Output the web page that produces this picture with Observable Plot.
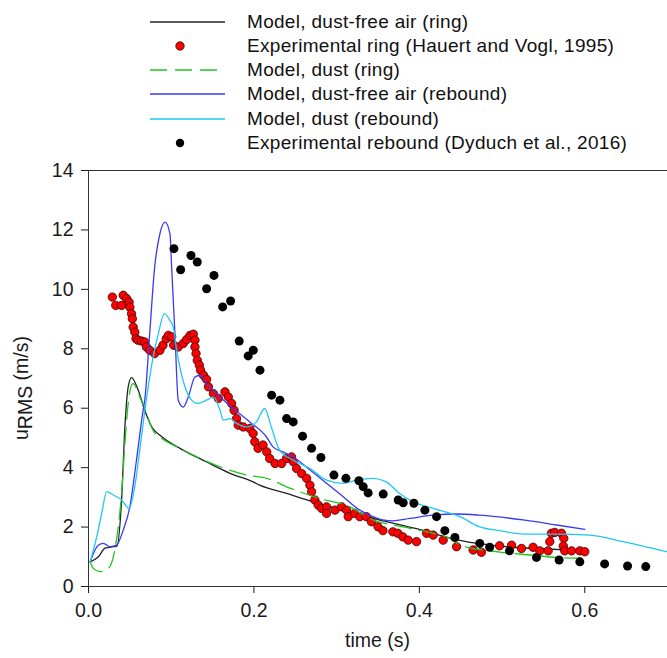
<!DOCTYPE html>
<html><head><meta charset="utf-8">
<script src="https://cdn.jsdelivr.net/npm/d3@7"></script>
<script src="https://cdn.jsdelivr.net/npm/@observablehq/plot@0.6"></script>
<style>
body{margin:0;background:#fff;font-family:Arial,"Liberation Sans",sans-serif;}
#wrap{width:667px;height:658px;position:relative;overflow:hidden;}
#legend{position:relative;width:667px;height:160px;}
.row{position:absolute;left:150px;height:24px;display:flex;align-items:center;font-size:19px;letter-spacing:0.3px;color:#111;white-space:nowrap;}
.row svg{width:75px;height:24px;margin-right:22px;flex:none;}
</style></head><body>
<div id="wrap"><div id="legend"></div><div id="chart"></div></div>
<script>
// ---- data ----
const seriesNames = [
  "Model, dust-free air (ring)",
  "Experimental ring (Hauert and Vogl, 1995)",
  "Model, dust (ring)",
  "Model, dust-free air (rebound)",
  "Model, dust (rebound)",
  "Experimental rebound (Dyduch et al., 2016)"
];
const seriesColors = ["#222222", "#ff0000", "#22c422", "#3a3af0", "#1ec8f2", "#000000"];
const seriesKinds = ["line", "dot", "dash", "line", "line", "dot"];

const xTicks = [0, 0.2, 0.4, 0.6];
const yTicks = [0, 2, 4, 6, 8, 10, 12, 14];

// Model, dust-free air (ring)
const ringAirT = [0.002,0.012,0.020,0.030,0.0344,0.040,0.044,0.048,0.052,0.060,0.068,0.0764,0.0864,0.1106,0.1428,0.171,0.199,0.207,0.2395,0.2717,0.30,0.35,0.40,0.449,0.509,0.55,0.598];
const ringAirU = [0.83,1.00,1.29,1.34,1.36,2.91,5.37,6.72,7.03,6.61,5.93,5.37,5.09,4.65,4.19,3.81,3.52,3.41,3.13,2.85,2.62,2.25,1.92,1.55,1.33,1.27,1.20];

// Experimental ring (Hauert and Vogl, 1995)
const ringExpT = [0.0288,0.0329,0.040,0.042,0.046,0.049,0.050,0.052,0.053,0.054,0.056,0.0574,0.060,0.064,0.068,0.070,0.074,0.080,0.0864,0.090,0.094,0.0965,0.1005,0.103,0.1085,0.1146,0.1187,0.1227,0.1267,0.1287,0.1287,0.130,0.1315,0.134,0.1355,0.139,0.1428,0.145,0.151,0.157,0.165,0.169,0.173,0.176,0.179,0.181,0.187,0.195,0.199,0.201,0.205,0.211,0.2155,0.219,0.2255,0.2335,0.2395,0.2455,0.2475,0.2516,0.2577,0.2637,0.2677,0.2697,0.2737,0.2777,0.2818,0.2878,0.2878,0.298,0.306,0.312,0.314,0.322,0.328,0.336,0.342,0.350,0.356,0.368,0.374,0.380,0.3865,0.3966,0.4087,0.4167,0.4288,0.445,0.465,0.475,0.497,0.5115,0.5235,0.5375,0.5456,0.5557,0.5577,0.5597,0.5637,0.5718,0.5746,0.574,0.5758,0.584,0.594,0.600];
const ringExpU = [9.74,9.46,9.46,9.80,9.69,9.57,9.40,9.18,9.01,8.73,8.56,8.34,8.29,8.26,8.23,8.06,7.95,7.84,7.95,8.12,8.34,8.45,8.40,8.12,8.06,8.18,8.31,8.45,8.49,8.29,8.06,7.84,7.61,7.45,7.28,7.11,6.97,6.72,6.49,6.33,6.55,6.38,6.16,5.93,5.65,5.43,5.37,5.32,5.15,4.87,4.65,4.76,4.53,4.31,4.14,4.14,4.31,4.36,4.20,3.97,3.80,3.64,3.41,3.19,2.91,2.74,2.63,2.68,2.46,2.57,2.68,2.57,2.35,2.46,2.35,2.35,2.18,2.01,1.88,1.84,1.79,1.67,1.56,1.51,1.79,1.73,1.56,1.34,1.23,1.15,1.37,1.39,1.28,1.32,1.20,1.20,1.51,1.79,1.82,1.79,1.62,1.36,1.20,1.20,1.20,1.17];

// Model, dust (ring)
const ringDustT = [0.002,0.0058,0.0139,0.024,0.030,0.036,0.040,0.044,0.048,0.052,0.054,0.062,0.070,0.078,0.0885,0.1025,0.1267,0.159,0.191,0.2155,0.2435,0.2798,0.316,0.340,0.3885,0.4167,0.441,0.449,0.497,0.5335,0.5698,0.600];
const ringDustU = [0.83,0.61,0.50,0.61,1.00,2.01,3.13,4.81,6.16,6.77,6.83,6.38,5.82,5.26,4.98,4.76,4.42,4.03,3.75,3.64,3.31,2.96,2.68,2.29,1.96,1.79,1.56,1.39,1.16,1.06,0.97,0.95];

// Model, dust-free air (rebound)
const rebAirT = [0.002,0.0118,0.0179,0.026,0.034,0.042,0.050,0.058,0.066,0.068,0.074,0.080,0.0864,0.0925,0.0985,0.1005,0.1045,0.1085,0.1146,0.1206,0.1287,0.1347,0.1428,0.159,0.175,0.195,0.215,0.223,0.235,0.2475,0.268,0.288,0.308,0.328,0.340,0.356,0.368,0.3885,0.4167,0.445,0.473,0.5255,0.566,0.600];
const rebAirU = [0.83,1.39,1.45,1.34,1.39,1.90,2.68,4.25,5.93,6.27,8.52,10.75,11.88,12.26,11.87,10.75,8.51,6.27,6.04,6.38,7.05,7.11,6.83,6.38,5.99,5.54,5.04,4.70,4.53,4.36,3.92,3.47,3.02,2.57,2.40,2.24,2.21,2.29,2.40,2.44,2.40,2.24,2.07,1.92];

// Model, dust (rebound)
const rebDustT = [0.002,0.0099,0.016,0.022,0.030,0.040,0.049,0.056,0.062,0.070,0.078,0.0844,0.0917,0.0985,0.1025,0.1066,0.1166,0.1247,0.1307,0.1428,0.151,0.159,0.163,0.171,0.179,0.191,0.203,0.213,0.221,0.231,0.2475,0.268,0.288,0.308,0.324,0.344,0.360,0.376,0.3925,0.4167,0.449,0.473,0.497,0.5295,0.566,0.606,0.646,0.699];
const rebDustU = [0.83,1.67,2.46,3.19,3.08,2.91,2.63,3.36,4.60,6.30,7.70,8.50,9.18,8.95,8.73,7.95,6.72,6.27,6.16,6.27,6.38,5.93,5.60,5.65,5.49,5.37,5.54,5.99,5.37,4.59,4.25,3.97,3.58,3.47,3.58,3.64,3.52,3.13,2.85,2.63,2.35,2.01,1.88,1.76,1.76,1.73,1.51,1.17];

// Experimental rebound (Dyduch et al., 2016)
const rebExpT = [0.1033,0.1114,0.1239,0.1315,0.1428,0.1517,0.1622,0.1718,0.1822,0.1931,0.1992,0.2073,0.2214,0.2314,0.2395,0.2475,0.2588,0.2697,0.281,0.2967,0.3112,0.3269,0.3321,0.3381,0.3563,0.3744,0.3805,0.3934,0.4067,0.4208,0.4308,0.443,0.473,0.485,0.509,0.5416,0.569,0.594,0.624,0.6517,0.6737];
const rebExpU = [11.37,10.66,11.14,10.92,10.02,10.47,9.41,9.61,8.26,7.76,7.95,7.28,6.44,6.27,5.65,5.54,5.06,4.65,4.34,3.75,3.64,3.56,3.36,3.15,3.11,2.91,2.82,2.80,2.57,2.35,1.88,1.65,1.45,1.32,1.20,0.98,0.89,0.83,0.76,0.69,0.67];

// ---- legend ----
const legend = document.getElementById("legend");
seriesNames.forEach((name, i) => {
  const row = document.createElement("div");
  row.className = "row";
  row.style.top = (9.7 + i * 24.2) + "px";
  const c = seriesColors[i], k = seriesKinds[i];
  let sw;
  if (k === "dot") sw = `<circle cx="30" cy="12" r="4.2" fill="${c}" stroke="${i===1?'#300':'none'}" stroke-width="0.8"/>`;
  else if (k === "dash") sw = `<line x1="0" y1="12" x2="75" y2="12" stroke="${c}" stroke-width="1.3" stroke-dasharray="17,8"/>`;
  else sw = `<line x1="0" y1="12" x2="75" y2="12" stroke="${c}" stroke-width="1.3"/>`;
  row.innerHTML = `<svg viewBox="0 0 75 24">${sw}</svg><span>${name}</span>`;
  legend.appendChild(row);
});

// ---- chart ----
const W = 667, H = 498, mL = 88, mT = 10, mB = 72;
const chart = Plot.plot({
  width: W, height: H,
  marginLeft: mL, marginRight: 0, marginTop: mT, marginBottom: mB,
  style: {fontFamily: 'Arial, "Liberation Sans", sans-serif', fontSize: "19.5px", color: "#1a1a1a", background: "transparent"},
  x: {domain: [0, 0.7], ticks: xTicks, tickFormat: d3.format(".1f"), tickSize: 7, tickPadding: 10, label: null},
  y: {domain: [0, 14], ticks: yTicks, tickSize: 7, tickPadding: 8, label: null},
  marks: [
    Plot.ruleY([0], {stroke: "#333"}),
    Plot.ruleY([14], {stroke: "#333"}),
    Plot.ruleX([0], {stroke: "#333"}),
    Plot.line(ringAirT, {x: ringAirT, y: ringAirU, stroke: seriesColors[0], strokeWidth: 1.3, curve: "monotone-x"}),
    Plot.dot(ringExpT, {x: ringExpT, y: ringExpU, r: 4.2, fill: seriesColors[1], stroke: "#300", strokeWidth: 0.8}),
    Plot.line(ringDustT, {x: ringDustT, y: ringDustU, stroke: seriesColors[2], strokeWidth: 1.3, strokeDasharray: "17,8", curve: "monotone-x"}),
    Plot.line(rebAirT, {x: rebAirT, y: rebAirU, stroke: seriesColors[3], strokeWidth: 1.3, curve: "monotone-x"}),
    Plot.line(rebDustT, {x: rebDustT, y: rebDustU, stroke: seriesColors[4], strokeWidth: 1.3, curve: "monotone-x"}),
    Plot.dot(rebExpT, {x: rebExpT, y: rebExpU, r: 4.5, fill: seriesColors[5], stroke: "none"})
  ]
});
document.getElementById("chart").appendChild(chart);

const svg = d3.select(chart);
// y-axis title with subscript
const yl = svg.append("text")
  .attr("transform", `translate(28,${228}) rotate(-90)`)
  .attr("text-anchor", "middle")
  .attr("font-size", 19.5).attr("fill", "#1a1a1a");
yl.append("tspan").text("u");
yl.append("tspan").attr("dy", 4).text("RMS");
yl.append("tspan").attr("dy", -4).text(" (m/s)");
// x-axis title
svg.append("text")
  .attr("x", (mL + W) / 2).attr("y", 487)
  .attr("text-anchor", "middle")
  .attr("font-size", 19.5).attr("fill", "#1a1a1a")
  .text("time (s)");
</script>
</body></html>
